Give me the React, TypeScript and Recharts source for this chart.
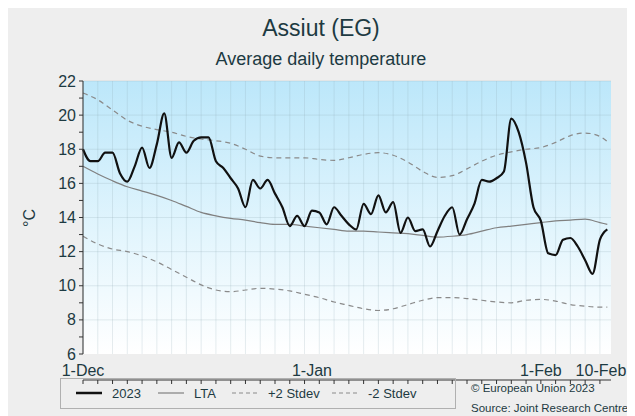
import React from "react";
import { LineChart, Line, XAxis, YAxis, CartesianGrid } from "recharts";

// day 0 = 1-Dec, day 71 = 10-Feb
const temp2023 = [
  18.0, 17.3, 17.3, 17.8, 17.8, 16.6, 16.1, 17.0, 18.1, 16.9,
  18.3, 20.1, 17.5, 18.4, 17.8, 18.5, 18.7, 18.7, 17.3, 16.9,
  16.3, 15.7, 14.6, 16.2, 15.7, 16.2, 15.4, 14.6, 13.5, 14.1,
  13.5, 14.4, 14.3, 13.6, 14.6, 14.1, 13.6, 13.3, 14.8, 14.2,
  15.3, 14.3, 14.9, 13.1, 14.0, 13.2, 13.3, 12.3, 13.2, 14.1,
  14.6, 13.0, 13.9, 14.8, 16.2, 16.1, 16.3, 16.7, 19.8, 19.0,
  17.2, 14.6, 13.8, 11.9, 11.8, 12.7, 12.8, 12.3, 11.5, 10.7,
  12.7, 13.3,
];

const statDays = [
  0, 2, 4, 6, 8, 10, 12, 14, 16, 18, 20, 22, 24, 26, 28, 30, 32, 34, 36,
  38, 40, 42, 44, 46, 48, 50, 52, 54, 56, 58, 60, 62, 64, 66, 68, 70, 71,
];
const lta = [
  17.0, 16.55, 16.15, 15.8, 15.55, 15.3, 15.0, 14.65, 14.3, 14.1, 13.95,
  13.85, 13.7, 13.6, 13.6, 13.5, 13.4, 13.3, 13.2, 13.2, 13.15, 13.1, 13.05,
  12.95, 12.85, 12.9, 13.0, 13.2, 13.4, 13.5, 13.6, 13.7, 13.8, 13.85, 13.9,
  13.7, 13.6,
];
const plus2 = [
  21.3, 20.9, 20.3, 19.7, 19.35, 19.15, 19.0, 18.75, 18.6, 18.5, 18.35, 18.0,
  17.6, 17.5, 17.5, 17.5, 17.4, 17.35, 17.5, 17.7, 17.8, 17.65, 17.25, 16.7,
  16.35, 16.45, 16.85, 17.3, 17.65, 17.85, 18.0, 18.1, 18.4, 18.8, 18.95,
  18.75, 18.45,
];
const minus2 = [
  12.9, 12.45, 12.15, 12.0, 11.75, 11.4, 10.95, 10.5, 10.05, 9.75, 9.65, 9.75,
  9.85, 9.8, 9.7, 9.5, 9.3, 9.05, 8.85, 8.65, 8.55, 8.65, 8.9, 9.15, 9.3, 9.3,
  9.25, 9.15, 9.05, 9.0, 9.15, 9.2, 9.1, 8.9, 8.8, 8.75, 8.75,
];

const gridDays = [
  0, 2, 4, 6, 8, 10, 12, 14, 16, 18, 20, 22, 24, 26, 28, 30, 32, 34, 36,
  38, 40, 42, 44, 46, 48, 50, 52, 54, 56, 58, 60, 62, 64, 66, 68, 70,
];
const dateTicks = [0, 31, 62, 71];
const dateLabels = ["1-Dec", "1-Jan", "1-Feb", "10-Feb"];
const yTicks = [6, 7, 8, 9, 10, 11, 12, 13, 14, 15, 16, 17, 18, 19, 20, 21, 22];
const yGrid = [8, 10, 12, 14, 16, 18, 20, 22];

const data = temp2023.map((t, day) => {
  const k = statDays.indexOf(day);
  return {
    day,
    t,
    lta: k >= 0 ? lta[k] : undefined,
    up: k >= 0 ? plus2[k] : undefined,
    lo: k >= 0 ? minus2[k] : undefined,
  };
});

const textColor = "#1d3a42";
const font = "'Liberation Sans', Arial, sans-serif";

const YTick = (props: any) => {
  const { x, y, payload } = props;
  if (payload.value % 2 !== 0) return <g />;
  return (
    <text x={x} y={y} dy={5.5} textAnchor="end" fontSize={16} fill={textColor} fontFamily={font}>
      {payload.value}
    </text>
  );
};

const DateTick = (props: any) => {
  const { x, y, payload } = props;
  const i = dateTicks.indexOf(payload.value);
  const last = i === dateTicks.length - 1;
  // the last label would run past the edge, so it is anchored at its end
  return (
    <text
      x={last ? x + 19 : x}
      y={y}
      dy={20}
      textAnchor={last ? "end" : "middle"}
      fontSize={16}
      fill={textColor}
      fontFamily={font}
    >
      {dateLabels[i]}
    </text>
  );
};

const LegendItem = ({ left, label, width, color, dash }: any) => (
  <div style={{ position: "absolute", left, top: 0, height: 28, display: "flex", alignItems: "center", whiteSpace: "nowrap" }}>
    <svg width={28} height={6} style={{ marginRight: 9 }}>
      <line x1={1} y1={3} x2={27} y2={3} stroke={color} strokeWidth={width} strokeDasharray={dash} />
    </svg>
    <span style={{ fontSize: 13, color: textColor }}>{label}</span>
  </div>
);

export default function App() {
  return (
    <div style={{ position: "relative", width: 619, height: 408, background: "#eeeeee", fontFamily: font, overflow: "hidden" }}>
      <svg width={0} height={0} style={{ position: "absolute" }}>
        <defs>
          <linearGradient id="plotBg" x1="0" y1="0" x2="0" y2="1">
            <stop offset="0%" stopColor="#bce7fa" />
            <stop offset="55%" stopColor="#e2f5fd" />
            <stop offset="100%" stopColor="#ffffff" />
          </linearGradient>
        </defs>
      </svg>
      <div style={{ position: "absolute", left: 0, width: 626, top: 7, textAlign: "center", fontSize: 23, color: textColor }}>
        Assiut (EG)
      </div>
      <div style={{ position: "absolute", left: 0, width: 626, top: 41, textAlign: "center", fontSize: 18, color: textColor }}>
        Average daily temperature
      </div>
      <div style={{ position: "absolute", left: 12, top: 200, width: 20, height: 20, transform: "rotate(-90deg)", fontSize: 16, color: textColor, textAlign: "center", lineHeight: "20px" }}>
        °C
      </div>
      <LineChart width={619} height={408} data={data} margin={{ top: 73, right: 16, left: 0, bottom: 32 }}>
        <CartesianGrid
          xAxisId="ticks"
          fill="url(#plotBg)"
          fillOpacity={1}
          stroke="#8fa7b0"
          strokeOpacity={0.22}
          horizontalValues={yGrid}
          verticalValues={gridDays}
        />
        <XAxis
          xAxisId="ticks"
          dataKey="day"
          type="number"
          domain={[0, 71.5]}
          ticks={gridDays}
          interval={0}
          height={4}
          tickSize={4}
          tick={() => <g />}
          stroke="#333"
          tickLine={{ stroke: "#333" }}
        />
        <XAxis
          xAxisId="labels"
          dataKey="day"
          type="number"
          domain={[0, 71.5]}
          ticks={dateTicks}
          interval={0}
          height={26}
          axisLine={false}
          tickLine={false}
          tickSize={0}
          tick={DateTick}
        />
        <YAxis
          type="number"
          domain={[6, 22]}
          ticks={yTicks}
          interval={0}
          width={75}
          tickSize={4}
          tickMargin={3}
          tick={YTick}
          stroke="#333"
        />
        <Line xAxisId="ticks" type="monotone" dataKey="up" stroke="#8a8a8a" strokeWidth={1.2} strokeDasharray="5 4" dot={false} connectNulls isAnimationActive={false} />
        <Line xAxisId="ticks" type="monotone" dataKey="lo" stroke="#8a8a8a" strokeWidth={1.2} strokeDasharray="5 4" dot={false} connectNulls isAnimationActive={false} />
        <Line xAxisId="ticks" type="monotone" dataKey="lta" stroke="#808080" strokeWidth={1.2} dot={false} connectNulls isAnimationActive={false} />
        <Line xAxisId="ticks" type="monotone" dataKey="t" stroke="#111111" strokeWidth={2.2} dot={false} isAnimationActive={false} />
      </LineChart>
      <div style={{ position: "absolute", left: 52, top: 370, width: 396, height: 31, border: "1.5px solid #b0b0b0", boxSizing: "border-box" }}>
        <LegendItem left={14} label="2023" width={2.5} color="#111" />
        <LegendItem left={96} label="LTA" width={1.2} color="#808080" />
        <LegendItem left={170} label="+2 Stdev" width={1.2} color="#8a8a8a" dash="4 3" />
        <LegendItem left={270} label="-2 Stdev" width={1.2} color="#8a8a8a" dash="4 3" />
      </div>
      <div style={{ position: "absolute", left: 463, top: 374, fontSize: 11.5, color: textColor, whiteSpace: "nowrap" }}>© European Union 2023</div>
      <div style={{ position: "absolute", left: 463, top: 394, fontSize: 11.5, color: textColor, whiteSpace: "nowrap" }}>Source: Joint Research Centre</div>
    </div>
  );
}
